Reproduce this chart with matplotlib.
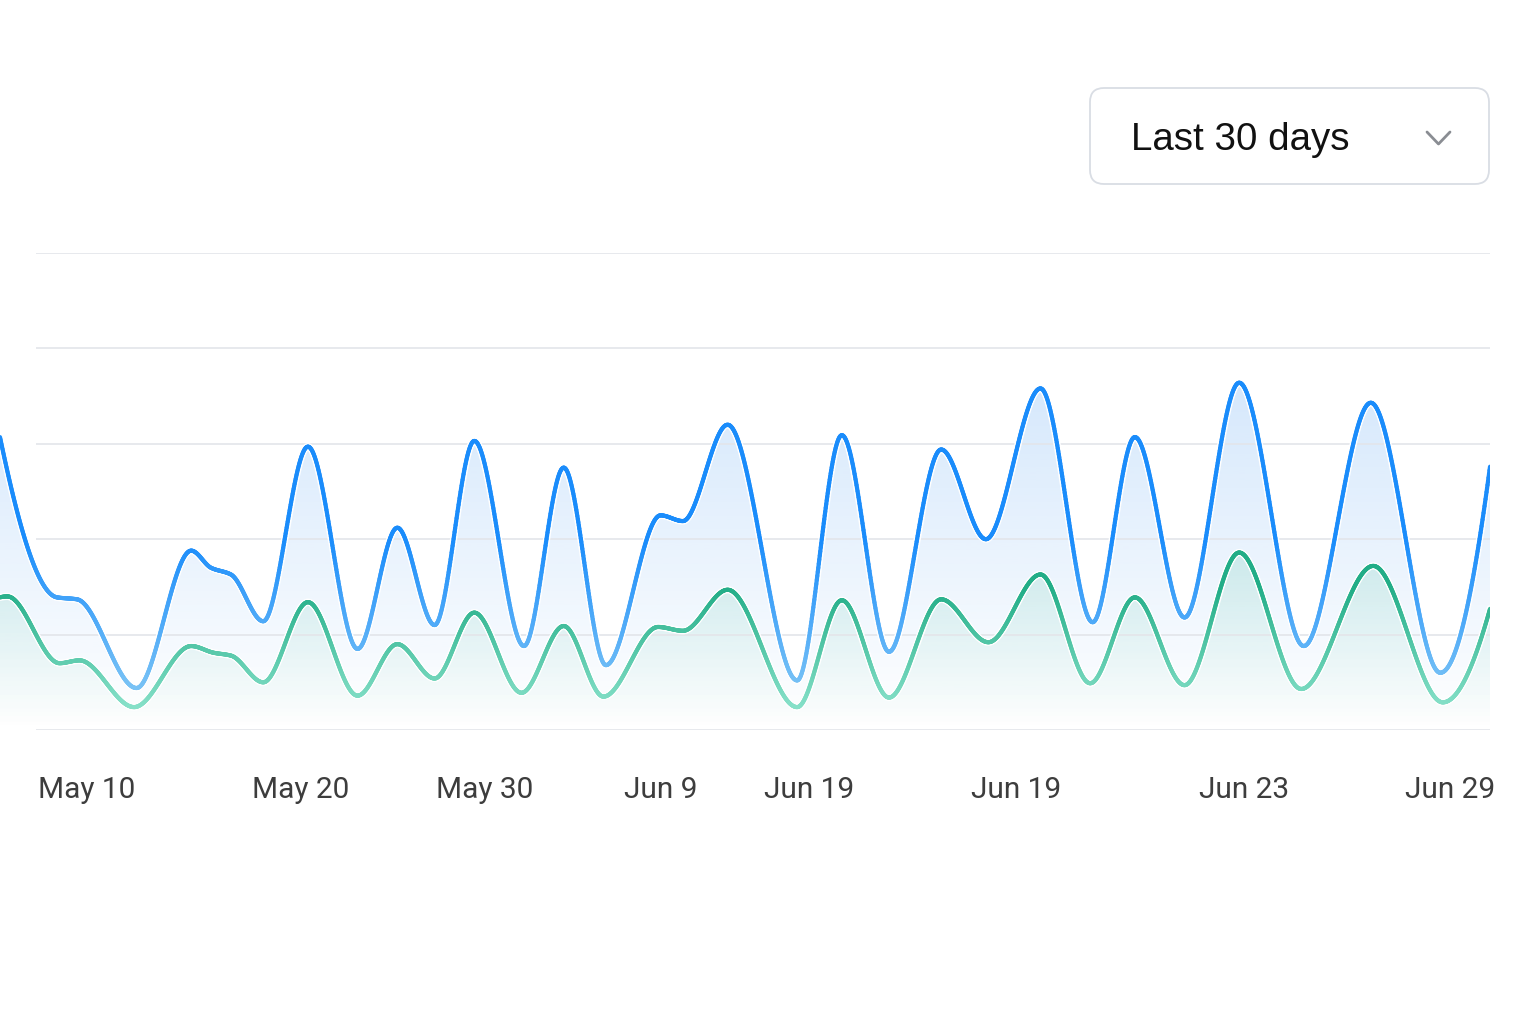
import numpy as np
import matplotlib
matplotlib.use("Agg")
import matplotlib.pyplot as plt
from matplotlib.collections import LineCollection
from matplotlib.patches import FancyBboxPatch, Polygon
from matplotlib.colors import to_rgb

# data (x in days, y in chart units; gridlines every 100)
blue_x = [0.0, 2.3, 3.1, 5.5, 7.7, 8.5, 9.3, 10.6, 12.4, 14.4, 16.0, 17.5, 19.1, 21.1,
          22.7, 24.4, 26.6, 27.5, 29.3, 32.1, 33.9, 35.8, 37.9, 39.7, 41.9, 44.0, 45.7,
          47.7, 49.9, 52.5, 55.2, 58.0, 60.0]
blue_y = [307, 139, 137, 44, 188, 170, 163, 114, 297, 85, 212, 110, 303, 88,
          275, 68, 225, 219, 320, 52, 309, 82, 294, 200, 358, 113, 307,
          118, 364, 88, 343, 60, 276]

green_x = [0.0, 0.3, 2.4, 3.2, 5.4, 7.7, 8.6, 9.3, 10.6, 12.4, 14.4, 16.0, 17.5, 19.1, 21.0,
           22.7, 24.3, 26.5, 27.5, 29.3, 32.1, 33.9, 35.8, 37.9, 39.8, 41.9, 43.9, 45.7,
           47.7, 49.9, 52.4, 55.3, 58.1, 60.0]
green_y = [139, 140, 70, 73, 24, 88, 81, 78, 50, 134, 36, 90, 54, 123, 39,
           109, 35, 108, 104, 147, 24, 136, 34, 137, 92, 163, 49, 139,
           47, 186, 43, 172, 29, 127]

tick_pos = [3.5, 12.1, 19.5, 26.6, 32.6, 40.9, 50.1, 58.4]
tick_labels = ["May 10", "May 20", "May 30", "Jun 9", "Jun 19", "Jun 19", "Jun 23", "Jun 29"]
grid_vals = [0, 100, 200, 300, 400, 500]
range_label = "Last 30 days"

X_MAX = 60
Y_MAX = 500


def pchip(x, y, xs):
    # monotone cubic (smooth line rendering between the read points)
    x = np.asarray(x, float)
    y = np.asarray(y, float)
    h = np.diff(x)
    delta = np.diff(y) / h
    n = len(x)
    d = np.zeros(n)
    for k in range(1, n - 1):
        if delta[k - 1] * delta[k] > 0:
            w1 = 2 * h[k] + h[k - 1]
            w2 = h[k] + 2 * h[k - 1]
            d[k] = (w1 + w2) / (w1 / delta[k - 1] + w2 / delta[k])

    def end_slope(h0, h1, d0, d1):
        s = ((2 * h0 + h1) * d0 - h0 * d1) / (h0 + h1)
        if np.sign(s) != np.sign(d0):
            s = 0.0
        elif np.sign(d0) != np.sign(d1) and abs(s) > abs(3 * d0):
            s = 3 * d0
        return s

    d[0] = end_slope(h[0], h[1], delta[0], delta[1])
    d[-1] = end_slope(h[-1], h[-2], delta[-1], delta[-2])

    idx = np.clip(np.searchsorted(x, xs) - 1, 0, n - 2)
    t = (xs - x[idx]) / h[idx]
    h00 = 2 * t**3 - 3 * t**2 + 1
    h10 = t**3 - 2 * t**2 + t
    h01 = -2 * t**3 + 3 * t**2
    h11 = t**3 - t**2
    return h00 * y[idx] + h10 * h[idx] * d[idx] + h01 * y[idx + 1] + h11 * h[idx] * d[idx + 1]


def gradient_fill(ax, xs, ys, color, a_top, top, z):
    verts = [(xs[0], 0)] + list(zip(xs, ys)) + [(xs[-1], 0)]
    patch = Polygon(verts, closed=True, facecolor="none", edgecolor="none")
    ax.add_patch(patch)
    grad = np.zeros((256, 1, 4))
    grad[:, :, :3] = to_rgb(color)
    grad[:, 0, 3] = np.linspace(0.0, a_top, 256)
    im = ax.imshow(grad, extent=[0, X_MAX, 0, top], origin="lower", aspect="auto",
                   interpolation="bilinear", zorder=z)
    im.set_clip_path(patch)


def shaded_line(ax, xs, ys, light, dark, lo, hi, z):
    ax.plot(xs, ys, color="white", lw=5.2, solid_capstyle="round", zorder=z)
    pts = np.column_stack([xs, ys]).reshape(-1, 1, 2)
    segs = np.concatenate([pts[:-1], pts[1:]], axis=1)
    mid = (ys[:-1] + ys[1:]) / 2
    t = np.clip((mid - lo) / (hi - lo), 0, 1)[:, None]
    cols = (1 - t) * np.array(to_rgb(light)) + t * np.array(to_rgb(dark))
    lc = LineCollection(segs, colors=cols, linewidths=3.0, capstyle="round", zorder=z + 0.1)
    ax.add_collection(lc)


W, H = 1536, 1024
fig = plt.figure(figsize=(W / 100, H / 100), dpi=100)
fig.patch.set_facecolor("white")

# chart axes: left edge at 0 px, right at 1490 px, gridlines from 253 px to 730 px
ax = fig.add_axes([0, (H - 730) / H, 1490 / W, (730 - 253) / H])
ax.set_facecolor("none")

xs = np.linspace(0, X_MAX, 3000)
blue_s = pchip(blue_x, blue_y, xs)
green_s = pchip(green_x, green_y, xs)

gradient_fill(ax, xs, blue_s, "#2b8af0", 0.20, 370, 1)
gradient_fill(ax, xs, green_s, "#2db88e", 0.17, 200, 2)

ax.hlines(grid_vals, 36 / 1490 * X_MAX, X_MAX, colors="#e3e5ea", lw=1.2, zorder=3)

shaded_line(ax, xs, green_s, "#86e0c8", "#22ad87", 25, 150, 4)
shaded_line(ax, xs, blue_s, "#7cc4f5", "#1a8cfb", 40, 200, 5)

ax.set_xlim(0, X_MAX)
ax.set_ylim(0, Y_MAX)
ax.set_xticks(tick_pos)
ax.set_xticklabels(tick_labels, fontfamily="Roboto", fontsize=21.5, color="#3d3d3d")
ax.tick_params(axis="x", length=0, pad=33)
ax.set_yticks([])
for s in ax.spines.values():
    s.set_visible(False)

# dropdown overlay in pixel units
ov = fig.add_axes([0, 0, 1, 1])
ov.set_xlim(0, W)
ov.set_ylim(H, 0)
ov.axis("off")
ov.patch.set_alpha(0)
box = FancyBboxPatch((1090, 88), 399, 96, boxstyle="round,pad=0,rounding_size=14",
                     facecolor="white", edgecolor="#d9dde4", lw=1.3)
ov.add_patch(box)
ov.text(1131, 140, range_label, fontfamily="Liberation Sans", fontsize=27.7,
        color="#111111", va="center", ha="left")
ov.plot([1427, 1438.5, 1450], [132, 144, 132], color="#8a8d93", lw=2.0,
        solid_capstyle="round", solid_joinstyle="round")

fig.savefig("out.png", dpi=100, facecolor="white")
